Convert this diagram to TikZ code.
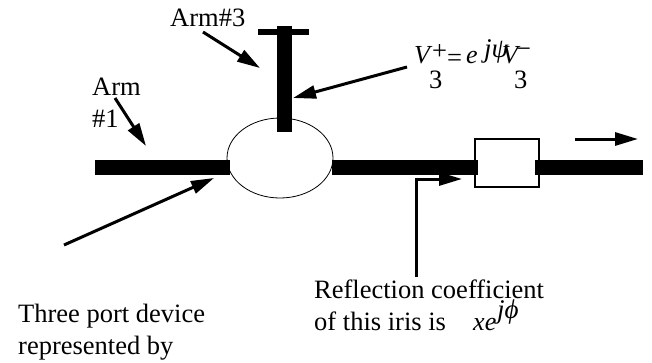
\documentclass[tikz,border=0pt]{standalone}
\usepackage{fontspec}
\setmainfont{Liberation Serif}
\usetikzlibrary{arrows.meta,shapes.geometric}
\tikzset{
 arm/.style={line width=15bp,line cap=butt},
 thinarm/.style={line width=6bp,line cap=butt},
 ptr/.style={line width=3bp,-{Triangle[length=23bp,width=13bp]}},
 lbl/.style={inner sep=0pt,anchor=base west,font=\fontsize{26.5bp}{30bp}\selectfont},
 sym/.style={inner sep=0pt,anchor=base west,font=\fontsize{26bp}{30bp}\selectfont\itshape},
 supsym/.style={inner sep=0pt,anchor=base west,font=\fontsize{27bp}{30bp}\selectfont\itshape}
}
\begin{document}
\begin{tikzpicture}[x=1bp,y=-1bp]
\useasboundingbox (0,0) rectangle (652,362);
\fill[white] (0,0) rectangle (652,362);
\coordinate (a1l) at (95,167); \coordinate (a1r) at (230,167);
\coordinate (a2l) at (332,167); \coordinate (a2r) at (478,167);
\coordinate (a3l) at (535,167); \coordinate (a3r) at (643,167);
\coordinate (a4t) at (284,26); \coordinate (a4b) at (284,132);
\coordinate (capl) at (258,32); \coordinate (capr) at (309,32);
\node[draw=black,line width=0.8bp,ellipse,minimum width=106bp,minimum height=80bp,inner sep=0pt] (dev) at (280,158) {};
\node[draw=black,line width=2.4bp,minimum width=64bp,minimum height=48bp,inner sep=0pt] (iris) at (507,163) {};
\draw[arm] (a1l)--(a1r);
\draw[arm] (a2l)--(a2r);
\draw[arm] (a3l)--(a3r);
\draw[arm] (a4t)--(a4b);
\draw[thinarm] (capl)--(capr);
\node[lbl] (t1) at (170,26) {Arm\#3};
\node[lbl] (t2) at (92,95) {Arm};
\node[lbl] (t3) at (92,127) {\#1};
\node[lbl] (t4) at (18,322) {Three port device};
\node[lbl] (t5) at (18,354) {represented by};
\node[lbl] (t6) at (314,298) {Reflection coefficient};
\node[lbl] (t7) at (314,330) {of this iris is};
\node[sym] (x) at (473,330) {xe};
\node[supsym] (jphi) at (497,318) {jϕ};
\node[sym] (v1) at (414,63) {V};
\node[lbl] (vp) at (432,59.5) {+};
\node[lbl] (eq) at (447,66.5) {=};
\node[sym] (e1) at (466,63) {e};
\node[supsym] (jpsi) at (484,57) {jψ};
\node[sym] (v2) at (502,63) {V};
\node[lbl] (vm) at (516,57.5) {−};
\node[lbl] (n1) at (429,88) {3};
\node[lbl] (n2) at (514,88) {3};
\coordinate (p1s) at (203,32); \coordinate (p1e) at (260,68);
\coordinate (p2s) at (115,98); \coordinate (p2e) at (146,146);
\coordinate (p3s) at (407,67); \coordinate (p3e) at (293,98);
\coordinate (p4s) at (64,245); \coordinate (p4e) at (214,178);
\coordinate (p5s) at (575,139); \coordinate (p5e) at (638,139);
\draw[ptr] (p1s)--(p1e);
\draw[ptr] (p2s)--(p2e);
\draw[ptr] (p3s)--(p3e);
\draw[ptr] (p4s)--(p4e);
\draw[ptr] (p5s)--(p5e);
\coordinate (p6a) at (416,277); \coordinate (p6b) at (416,179); \coordinate (p6c) at (462,179);
\draw[ptr] (p6a)--(p6b)--(p6c);
\end{tikzpicture}
\end{document}
